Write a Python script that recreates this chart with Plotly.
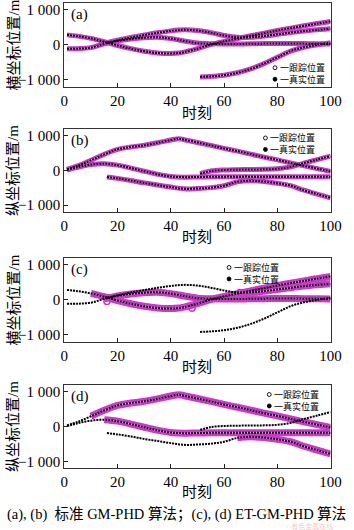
import plotly.graph_objects as go

W, H = 354, 530

# ---------------- data ----------------
# target P
T_P = [1, 5, 10, 15, 20, 25, 30, 35, 40, 43, 45, 50, 55, 60, 65, 70, 75, 80, 85, 90, 95, 100]
X_P = [286, 250, 185, 90, -20, -110, -185, -235, -250, -235, -210, -110, 10, 100, 180, 260, 335, 410, 480, 545, 610, 670]
Y_P = [30, 130, 290, 460, 600, 670, 720, 790, 870, 910, 880, 800, 715, 630, 550, 465, 380, 300, 215, 130, 50, -30]
# target Q
T_Q = [1, 5, 10, 15, 20, 25, 30, 35, 40, 45, 50, 55, 60, 65, 70, 75, 80, 85, 90, 95, 100]
X_Q = [-114, -110, -80, 30, 115, 170, 205, 215, 180, 110, 50, 30, 25, 25, 30, 35, 40, 40, 35, 30, 25]
Y_Q = [10, 90, 165, 190, 150, 65, -25, -110, -175, -195, -190, -185, -180, -180, -180, -185, -185, -185, -185, -185, -185]
# target R
T_R = [16, 20, 25, 30, 35, 40, 45, 50, 55, 60, 65, 70, 75, 80, 85, 90, 95, 100]
X_R = [60, 130, 210, 280, 345, 400, 430, 410, 350, 270, 215, 215, 250, 300, 350, 395, 430, 460]
Y_R = [-190, -230, -290, -360, -420, -480, -530, -520, -495, -440, -330, -300, -320, -370, -440, -570, -680, -790]
# target S
T_S = [51, 55, 60, 65, 70, 75, 80, 85, 90, 95, 100]
X_S = [-920, -905, -870, -800, -690, -540, -360, -180, -70, 0, 60]
Y_S = [-100, -20, 10, 20, 25, 30, 45, 100, 210, 310, 410]

# first tracked time step of each target
START_STD = {"P": 1, "Q": 1, "R": 16, "S": 51}
START_ET = {"P": 10, "Q": 15, "R": 65, "S": None}

# stray estimates in panel (c)
OUT_C_T = [16, 48]
OUT_C_V = [-50, -240]

X_TICKS = [0, 20, 40, 60, 80, 100]
Y_TICKS = [-1000, 0, 1000]
Y_TICK_TEXT = ["\u22121 000", "0", "1 000"]

PANEL_LABELS = ["(a)", "(b)", "(c)", "(d)"]
Y_TITLES = ["横坐标位置/m", "纵坐标位置/m", "横坐标位置/m", "纵坐标位置/m"]
X_TITLE = "时刻"
LEG_EST = "一跟踪位置"
LEG_TRUE = "一真实位置"
CAPTION = "(a), (b)  标准 GM-PHD 算法；(c), (d) ET-GM-PHD 算法"
WATERMARK = "©有色金属在线"

TARGETS = {
    "P": (T_P, X_P, Y_P),
    "Q": (T_Q, X_Q, Y_Q),
    "R": (T_R, X_R, Y_R),
    "S": (T_S, X_S, Y_S),
}

# ---------------- layout geometry (pixels) ----------------
PLOT_L, PLOT_R = 63, 341
PANEL_PX = [(2, 86), (128, 212), (258, 342), (385, 469)]
XTITLE_Y = [112, 237, 367, 493]
LEG_POS = [(281, 67.0, 78.5), (271, 137.5, 149.0), (233, 267.5, 279.0), (275, 395.0, 406.5)]

SERIF = "Liberation Serif, Noto Sans CJK SC, serif"
CJK = "Liberation Serif, Noto Sans CJK SC"
MAG = "rgb(205,55,205)"
MAG_IN = "rgb(238,165,238)"


def px(x):
    return x / W


def py(y):
    return 1 - y / H


fig = go.Figure()
layout = dict(
    width=W, height=H, margin=dict(l=0, r=0, t=0, b=0),
    paper_bgcolor="white", plot_bgcolor="white", showlegend=False,
)
annotations = []
shapes = []

for i in range(4):
    k = i + 1
    xa = "x" if k == 1 else f"x{k}"
    ya = "y" if k == 1 else f"y{k}"
    use_x = i in (0, 2)
    et = i >= 2
    starts = START_ET if et else START_STD
    band_w = 7 if et else 5

    # estimates (magenta bands)
    for name, (tt, xx, yy) in TARGETS.items():
        vv = xx if use_x else yy
        s = starts[name]
        if s is None:
            continue
        te = [t for t in tt if t >= s]
        ve = [v for t, v in zip(tt, vv) if t >= s]
        fig.add_trace(go.Scatter(x=te, y=ve, mode="lines", xaxis=xa, yaxis=ya,
                                 line=dict(color=MAG, width=band_w, shape="spline"),
                                 hoverinfo="skip"))
        fig.add_trace(go.Scatter(x=te, y=ve, mode="lines", xaxis=xa, yaxis=ya,
                                 line=dict(color=MAG_IN, width=1.5, shape="spline"),
                                 hoverinfo="skip"))
    if i == 2:
        fig.add_trace(go.Scatter(x=OUT_C_T, y=OUT_C_V, mode="markers", xaxis=xa, yaxis=ya,
                                 marker=dict(symbol="circle-open", size=6, color=MAG,
                                             line=dict(width=1.5, color=MAG)),
                                 hoverinfo="skip"))
    # truth (black dotted)
    for name, (tt, xx, yy) in TARGETS.items():
        vv = xx if use_x else yy
        fig.add_trace(go.Scatter(x=tt, y=vv, mode="lines", xaxis=xa, yaxis=ya,
                                 line=dict(color="black", width=2, dash="2px,1px", shape="spline"),
                                 hoverinfo="skip"))

    top, bot = PANEL_PX[i]
    xkey = "xaxis" if k == 1 else f"xaxis{k}"
    ykey = "yaxis" if k == 1 else f"yaxis{k}"
    layout[xkey] = dict(
        domain=[px(PLOT_L), px(PLOT_R)], anchor=ya, range=[0, 100],
        tickvals=X_TICKS, ticks="inside", ticklen=4, tickcolor="#222",
        showline=True, mirror=True, linecolor="#333", linewidth=1,
        showgrid=False, zeroline=False,
        tickfont=dict(family=SERIF, size=15, color="black"),
    )
    layout[ykey] = dict(
        domain=[py(bot), py(top)], anchor=xa, range=[-1200, 1200],
        tickvals=Y_TICKS, ticktext=Y_TICK_TEXT, ticks="inside", ticklen=4, tickcolor="#222",
        showline=True, mirror=True, linecolor="#333", linewidth=1,
        showgrid=False, zeroline=False,
        tickfont=dict(family=SERIF, size=15, color="black"),
    )

    # panel label
    annotations.append(dict(text=PANEL_LABELS[i], x=px(68), y=py(top + 12), xref="paper", yref="paper",
                            xanchor="left", yanchor="middle", showarrow=False,
                            font=dict(family=SERIF, size=15, color="black")))
    # y title
    annotations.append(dict(text=Y_TITLES[i], x=px(10), y=py((top + bot) / 2), xref="paper", yref="paper",
                            xanchor="center", yanchor="middle", textangle=-90, showarrow=False,
                            font=dict(family=CJK, size=15, color="black")))
    # x title
    annotations.append(dict(text=X_TITLE, x=px((PLOT_L + PLOT_R) / 2), y=py(XTITLE_Y[i]), xref="paper",
                            yref="paper", xanchor="center", yanchor="middle", showarrow=False,
                            font=dict(family=CJK, size=15, color="black")))
    # legend: symbols as shapes, two lines of text in one annotation
    lx, ly1, ly2 = LEG_POS[i]
    r = 2.0
    shapes.append(dict(type="circle", xref="paper", yref="paper",
                       x0=px(lx + 2 - r), x1=px(lx + 2 + r), y0=py(ly1 + r), y1=py(ly1 - r),
                       line=dict(color="black", width=0.9), fillcolor="white"))
    shapes.append(dict(type="circle", xref="paper", yref="paper",
                       x0=px(lx + 2 - r), x1=px(lx + 2 + r), y0=py(ly2 + r), y1=py(ly2 - r),
                       line=dict(color="black", width=0.9), fillcolor="black"))
    annotations.append(dict(text=LEG_EST + "<br>" + LEG_TRUE, x=px(lx + 5), y=py((ly1 + ly2) / 2),
                            xref="paper", yref="paper", xanchor="left", yanchor="middle",
                            align="left", showarrow=False,
                            font=dict(family=CJK, size=9, color="black")))

annotations.append(dict(text=WATERMARK, x=px(346), y=py(527.5), xref="paper", yref="paper",
                        xanchor="right", yanchor="middle", showarrow=False,
                        font=dict(family=CJK, size=7, color="rgba(235,130,130,0.45)")))
annotations.append(dict(text=CAPTION, x=px(180), y=py(515), xref="paper", yref="paper",
                        xanchor="center", yanchor="middle", showarrow=False,
                        font=dict(family=CJK, size=14.5, color="black")))

layout["annotations"] = annotations
layout["shapes"] = shapes
fig.update_layout(**layout)
fig.write_html("out.html")
